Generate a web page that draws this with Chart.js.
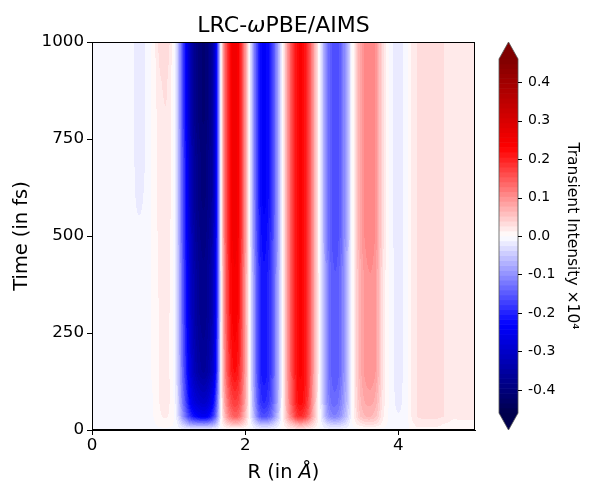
<!DOCTYPE html>
<html><head><meta charset="utf-8">
<script src="https://cdn.jsdelivr.net/npm/chart.js@4.4.0/dist/chart.umd.min.js"></script>
<style>html,body{margin:0;padding:0;background:#fff}#wrap{width:600px;height:500px;position:relative}</style>
</head><body><div id="wrap"><canvas id="c"></canvas></div>
<script>
// ---- data ----
const rValues = [0,0.1,0.2,0.3,0.4,0.5,0.6,0.7,0.8,0.9,1,1.1,1.2,1.3,1.4,1.5,1.6,1.7,1.8,1.9,2,2.1,2.2,2.3,2.4,2.5,2.6,2.7,2.8,2.9,3,3.1,3.2,3.3,3.4,3.5,3.6,3.7,3.8,3.9,4,4.1,4.2,4.3,4.4,4.5,4.6,4.7,4.8,4.9,5];
const timeValues = [0,15,35,70,150,300,400,500,600,700,800,900,1000];
const row_t0 = [-0.005,-0.005,-0.005,-0.005,-0.005,-0.005,-0.005,-0.005,-0.005,-0.005,-0.005,-0.005,-0.005,-0.005,-0.005,-0.005,-0.005,-0.005,-0.005,-0.005,-0.005,-0.005,-0.005,-0.005,-0.005,0.005,0.01,0.012,0.01,0.005,-0.005,-0.005,-0.005,-0.005,-0.005,-0.005,-0.005,-0.005,-0.005,-0.005,-0.005,-0.005,0.01,0.01,0.01,0.01,0.01,0.01,0.01,0.01,0.01];
const row_t15 = [-0.005,-0.005,-0.005,-0.005,-0.005,-0.005,-0.005,-0.005,-0.002,0.006,0.006,-0.008,-0.05,-0.09,-0.1,-0.1,-0.07,0.01,0.05,0.06,0.03,-0.02,-0.06,-0.06,-0.03,0.01,0.05,0.08,0.07,0.03,-0.01,-0.04,-0.045,-0.03,0,0.02,0.03,0.025,0.008,-0.005,-0.005,-0.005,0.012,0.015,0.015,0.015,0.012,0.01,0.01,0.01,0.01];
const row_t35 = [-0.005,-0.005,-0.005,-0.005,-0.005,-0.005,-0.005,-0.005,0,0.012,0.012,-0.015,-0.11,-0.2,-0.24,-0.24,-0.16,0.02,0.12,0.14,0.06,-0.05,-0.15,-0.15,-0.08,0.02,0.12,0.19,0.16,0.06,-0.025,-0.1,-0.11,-0.065,0,0.05,0.065,0.055,0.015,-0.005,-0.012,-0.005,0.02,0.03,0.03,0.03,0.025,0.015,0.015,0.015,0.015];
const row_t70 = [-0.005,-0.005,-0.005,-0.005,-0.005,-0.005,-0.005,-0.005,0,0.015,0.015,-0.02,-0.14,-0.25,-0.29,-0.29,-0.2,0.03,0.15,0.17,0.08,-0.06,-0.18,-0.18,-0.1,0.02,0.14,0.22,0.19,0.07,-0.03,-0.12,-0.13,-0.08,0,0.06,0.08,0.07,0.02,-0.005,-0.015,-0.005,0.02,0.03,0.03,0.03,0.025,0.015,0.015,0.015,0.015];
const row_t150 = [-0.005,-0.005,-0.005,-0.005,-0.005,-0.005,-0.005,-0.005,0.003,0.015,0.015,-0.025,-0.16,-0.29,-0.35,-0.35,-0.26,0.04,0.19,0.21,0.09,-0.07,-0.2,-0.2,-0.11,0.02,0.15,0.23,0.2,0.08,-0.035,-0.13,-0.15,-0.09,0,0.07,0.1,0.09,0.025,-0.005,-0.018,-0.005,0.02,0.03,0.03,0.03,0.025,0.015,0.015,0.015,0.015];
const row_t300 = [-0.005,-0.005,-0.005,-0.005,-0.005,-0.005,-0.005,-0.005,0.003,0.015,0.015,-0.025,-0.17,-0.31,-0.37,-0.37,-0.28,0.04,0.21,0.23,0.09,-0.07,-0.2,-0.2,-0.11,0.02,0.15,0.23,0.2,0.08,-0.035,-0.13,-0.15,-0.09,0,0.07,0.1,0.09,0.025,-0.005,-0.018,-0.005,0.02,0.03,0.03,0.03,0.025,0.015,0.015,0.015,0.015];
const row_t400 = [-0.005,-0.005,-0.005,-0.005,-0.005,-0.005,-0.005,-0.005,0.003,0.018,0.018,-0.025,-0.17,-0.31,-0.37,-0.37,-0.28,0.04,0.21,0.23,0.09,-0.07,-0.2,-0.2,-0.11,0.02,0.15,0.23,0.2,0.08,-0.035,-0.13,-0.15,-0.09,0,0.07,0.1,0.09,0.025,-0.005,-0.018,-0.005,0.02,0.03,0.03,0.03,0.025,0.015,0.015,0.015,0.015];
const row_t500 = [-0.005,-0.005,-0.005,-0.005,-0.005,-0.006,-0.01,-0.008,0.004,0.018,0.018,-0.028,-0.18,-0.32,-0.38,-0.38,-0.29,0.05,0.22,0.24,0.1,-0.08,-0.21,-0.21,-0.12,0.02,0.15,0.23,0.2,0.08,-0.04,-0.14,-0.16,-0.1,0,0.08,0.11,0.1,0.03,-0.005,-0.02,-0.005,0.02,0.03,0.03,0.03,0.025,0.015,0.015,0.015,0.015];
const row_t600 = [-0.005,-0.005,-0.005,-0.005,-0.005,-0.006,-0.015,-0.01,0.005,0.02,0.02,-0.03,-0.18,-0.33,-0.39,-0.39,-0.3,0.05,0.22,0.24,0.1,-0.08,-0.22,-0.22,-0.12,0.02,0.15,0.23,0.2,0.08,-0.04,-0.14,-0.16,-0.1,0,0.08,0.11,0.1,0.03,-0.005,-0.02,-0.005,0.02,0.03,0.03,0.03,0.025,0.015,0.015,0.015,0.015];
const row_t700 = [-0.005,-0.005,-0.005,-0.005,-0.005,-0.006,-0.018,-0.012,0.005,0.02,0.02,-0.03,-0.18,-0.33,-0.39,-0.39,-0.3,0.05,0.22,0.24,0.1,-0.08,-0.22,-0.22,-0.12,0.02,0.15,0.23,0.2,0.08,-0.04,-0.14,-0.16,-0.1,0,0.08,0.11,0.1,0.03,-0.005,-0.02,-0.005,0.02,0.03,0.03,0.03,0.025,0.015,0.015,0.015,0.015];
const row_t800 = [-0.005,-0.005,-0.005,-0.005,-0.005,-0.006,-0.018,-0.012,0.005,0.02,0.02,-0.03,-0.19,-0.34,-0.4,-0.4,-0.3,0.05,0.22,0.24,0.1,-0.08,-0.22,-0.22,-0.12,0.02,0.15,0.23,0.2,0.08,-0.04,-0.14,-0.16,-0.1,0,0.08,0.11,0.1,0.03,-0.005,-0.02,-0.005,0.02,0.03,0.03,0.03,0.025,0.015,0.015,0.015,0.015];
const row_t900 = [-0.005,-0.005,-0.005,-0.005,-0.005,-0.006,-0.018,-0.012,0.005,0.025,0.022,-0.03,-0.19,-0.34,-0.4,-0.4,-0.3,0.05,0.22,0.24,0.1,-0.08,-0.22,-0.22,-0.12,0.02,0.15,0.23,0.2,0.08,-0.04,-0.14,-0.16,-0.1,0,0.08,0.11,0.1,0.03,-0.005,-0.02,-0.005,0.02,0.03,0.03,0.03,0.025,0.015,0.015,0.015,0.015];
const row_t1000 = [-0.005,-0.005,-0.005,-0.005,-0.005,-0.006,-0.018,-0.012,0.005,0.035,0.03,-0.03,-0.19,-0.34,-0.4,-0.4,-0.3,0.05,0.22,0.24,0.1,-0.08,-0.22,-0.22,-0.12,0.02,0.15,0.23,0.2,0.08,-0.04,-0.14,-0.16,-0.1,0,0.08,0.11,0.1,0.03,-0.005,-0.02,-0.005,0.02,0.03,0.03,0.03,0.025,0.015,0.015,0.015,0.015];
const intensityRows = [row_t0,row_t15,row_t35,row_t70,row_t150,row_t300,row_t400,row_t500,row_t600,row_t700,row_t800,row_t900,row_t1000];
const xTicks = [0,2,4];
const yTicks = [0,250,500,750,1000];
const cbTicks = [-0.4,-0.3,-0.2,-0.1,0,0.1,0.2,0.3,0.4];
const levelMin = -0.46, levelMax = 0.46, levelBands = 72;

// ---- colour map (matplotlib seismic) ----
function seismic(t){
  t = Math.max(0, Math.min(1, t));
  let r,g,b;
  if (t < 0.25){ r=0; g=0; b=0.3+0.7*t/0.25; }
  else if (t < 0.5){ const s=(t-0.25)/0.25; r=s; g=s; b=1; }
  else if (t < 0.75){ const s=(t-0.5)/0.25; r=1; g=1-s; b=1-s; }
  else { const s=(t-0.75)/0.25; r=1-0.5*s; g=0; b=0; }
  return [Math.round(r*255), Math.round(g*255), Math.round(b*255)];
}
const bandStep = (levelMax-levelMin)/levelBands;
const bandColors = [];
for (let b=0;b<levelBands;b++){ bandColors.push(seismic((b+0.5)/levelBands)); }
const overColor = seismic(1), underColor = seismic(0);
function levelColor(v){
  if (v > levelMax) return overColor;
  if (v < levelMin) return underColor;
  let b = Math.floor((v-levelMin)/bandStep);
  if (b >= levelBands) b = levelBands-1;
  return bandColors[b];
}
function rowAt(row, r){
  const n = rValues.length;
  let i = 0;
  while (i < n-2 && rValues[i+1] <= r) i++;
  const u = Math.max(0, Math.min(1, (r - rValues[i])/(rValues[i+1]-rValues[i])));
  const p0 = row[Math.max(0,i-1)], p1 = row[i], p2 = row[i+1], p3 = row[Math.min(n-1,i+2)];
  const u2=u*u, u3=u2*u;
  return 0.5*((2*p1) + (-p0+p2)*u + (2*p0-5*p1+4*p2-p3)*u2 + (-p0+3*p1-3*p2+p3)*u3);
}

const FONT = "'DejaVu Sans', 'Liberation Sans', sans-serif";

const heatPlugin = {
  id: 'heat',
  beforeDatasetsDraw(chart){
    const {ctx, chartArea:a, scales} = chart;
    const xs = scales.x, ys = scales.y;
    const dpr = chart.currentDevicePixelRatio || 1;
    const W = Math.round(a.width*dpr), H = Math.round(a.height*dpr);
    const off = document.createElement('canvas'); off.width = W; off.height = H;
    const octx = off.getContext('2d');
    const img = octx.createImageData(W, H);
    const cols = intensityRows.map(row => {
      const arr = new Float32Array(W);
      for (let i=0;i<W;i++){ arr[i] = rowAt(row, xs.getValueForPixel(a.left + (i+0.5)/dpr)); }
      return arr;
    });
    const nT = timeValues.length;
    for (let j=0;j<H;j++){
      const t = ys.getValueForPixel(a.top + (j+0.5)/dpr);
      let k = 0;
      while (k < nT-2 && timeValues[k+1] <= t) k++;
      const f = Math.max(0, Math.min(1, (t - timeValues[k])/(timeValues[k+1]-timeValues[k])));
      const A = cols[k], B = cols[k+1];
      for (let i=0;i<W;i++){
        const v = A[i]*(1-f) + B[i]*f;
        const c = levelColor(v);
        const p = (j*W+i)*4;
        img.data[p]=c[0]; img.data[p+1]=c[1]; img.data[p+2]=c[2]; img.data[p+3]=255;
      }
    }
    octx.putImageData(img,0,0);
    ctx.save();
    ctx.drawImage(off, a.left, a.top, a.width, a.height);
    ctx.restore();
  },
  afterDraw(chart){
    const {ctx, chartArea:a, scales} = chart;
    ctx.save();
    ctx.strokeStyle = '#000'; ctx.lineWidth = 1;
    ctx.strokeRect(Math.round(a.left)+0.5, Math.round(a.top)+0.5, Math.round(a.width)-1, Math.round(a.height)-1);
    // colorbar
    const cb = scales.cb;
    const x0 = cb.left + 24, w = 19;
    for (let b=0;b<levelBands;b++){
      const y1 = cb.getPixelForValue(levelMin + b*bandStep);
      const y2 = cb.getPixelForValue(levelMin + (b+1)*bandStep);
      const c = bandColors[b];
      ctx.fillStyle = `rgb(${c[0]},${c[1]},${c[2]})`;
      ctx.fillRect(x0, Math.min(y1,y2)-0.3, w, Math.abs(y2-y1)+0.6);
    }
    const yTop = cb.getPixelForValue(levelMax), yBot = cb.getPixelForValue(levelMin);
    ctx.fillStyle = `rgb(${overColor.join(',')})`;
    ctx.beginPath(); ctx.moveTo(x0, yTop); ctx.lineTo(x0+w/2, cb.top); ctx.lineTo(x0+w, yTop); ctx.closePath(); ctx.fill();
    ctx.fillStyle = `rgb(${underColor.join(',')})`;
    ctx.beginPath(); ctx.moveTo(x0, yBot); ctx.lineTo(x0+w/2, cb.bottom); ctx.lineTo(x0+w, yBot); ctx.closePath(); ctx.fill();
    ctx.strokeStyle = '#555'; ctx.lineWidth = 0.8;
    ctx.beginPath();
    ctx.moveTo(x0, yTop); ctx.lineTo(x0+w/2, cb.top); ctx.lineTo(x0+w, yTop);
    ctx.lineTo(x0+w, yBot); ctx.lineTo(x0+w/2, cb.bottom); ctx.lineTo(x0, yBot); ctx.closePath();
    ctx.stroke();
    ctx.strokeStyle = '#000'; ctx.lineWidth = 1;
    cbTicks.forEach(v => {
      const yy = Math.round(cb.getPixelForValue(v)) + 0.5;
      ctx.beginPath(); ctx.moveTo(x0+w, yy); ctx.lineTo(x0+w+4, yy); ctx.stroke();
    });
    // title with italic omega
    ctx.fillStyle = '#000';
    ctx.textBaseline = 'middle';
    ctx.textAlign = 'left';
    const cx = (a.left + a.right)/2;
    const parts = [["LRC-", "normal"], ["ω", "italic"], ["PBE/AIMS", "normal"]];
    const tSize = 22;
    let total = 0;
    parts.forEach(p => { ctx.font = `${p[1]} ${tSize}px ${FONT}`; total += ctx.measureText(p[0]).width; });
    let xx = cx - total/2;
    parts.forEach(p => { ctx.font = `${p[1]} ${tSize}px ${FONT}`; ctx.fillText(p[0], xx, 26); xx += ctx.measureText(p[0]).width; });
    // x label with italic Å
    const xparts = [["R (in ", "normal"], ["Å", "italic"], [")", "normal"]];
    const lSize = 19.4;
    total = 0;
    xparts.forEach(p => { ctx.font = `${p[1]} ${lSize}px ${FONT}`; total += ctx.measureText(p[0]).width; });
    xx = cx - total/2;
    xparts.forEach(p => { ctx.font = `${p[1]} ${lSize}px ${FONT}`; ctx.fillText(p[0], xx, 473); xx += ctx.measureText(p[0]).width; });
    ctx.restore();
  }
};

const tickFont = {family: FONT, size: 16.7};
new Chart(document.getElementById('c'), {
  type: 'scatter',
  data: { datasets: [{ data: [], pointRadius: 0 }] },
  options: {
    responsive: true, maintainAspectRatio: false, animation: false,
    devicePixelRatio: 1,
    layout: { padding: { top: 42, left: 0, right: 0, bottom: 0 } },
    plugins: { legend: {display:false}, tooltip: {enabled:false}, title: {display:false} },
    scales: {
      x: {
        type: 'linear', min: 0, max: 5, position: 'bottom',
        afterBuildTicks: s => { s.ticks = xTicks.map(v => ({value: v})); },
        afterFit: s => { s.height = 70; },
        grid: { display: true, drawOnChartArea: false, drawTicks: true, tickLength: 5, tickColor: '#000', tickWidth: 1 },
        border: { display: true, color: '#000', width: 1 },
        ticks: { color: '#000', font: tickFont, padding: 1, maxRotation: 0, callback: v => String(v) }
      },
      y: {
        type: 'linear', min: 0, max: 1000, position: 'left',
        afterBuildTicks: s => { s.ticks = yTicks.map(v => ({value: v})); },
        afterFit: s => { s.width = 92; },
        grid: { display: true, drawOnChartArea: false, drawTicks: true, tickLength: 5, tickColor: '#000', tickWidth: 1 },
        border: { display: true, color: '#000', width: 1 },
        ticks: { color: '#000', font: tickFont, padding: 3, callback: v => String(v) },
        title: { display: true, text: 'Time (in fs)', color: '#000', font: {family: FONT, size: 19.4}, padding: {top: 10, bottom: 0} }
      },
      cb: {
        type: 'linear', min: -0.504, max: 0.504, position: 'right',
        afterBuildTicks: s => { s.ticks = cbTicks.map(v => ({value: v})); },
        afterFit: s => { s.width = 125; },
        grid: { display: true, drawOnChartArea: false, drawTicks: true, tickLength: 49, tickColor: 'rgba(0,0,0,0)', color: 'rgba(0,0,0,0)' },
        border: { display: false },
        ticks: { color: '#000', font: {family: FONT, size: 14}, padding: 4, callback: v => v.toFixed(1) },
        title: { display: true, text: 'Transient Intensity ×10⁴', color: '#000', font: {family: FONT, size: 15.5}, padding: {top: 19, bottom: 0} }
      }
    }
  },
  plugins: [heatPlugin]
});
</script>
</body></html>
